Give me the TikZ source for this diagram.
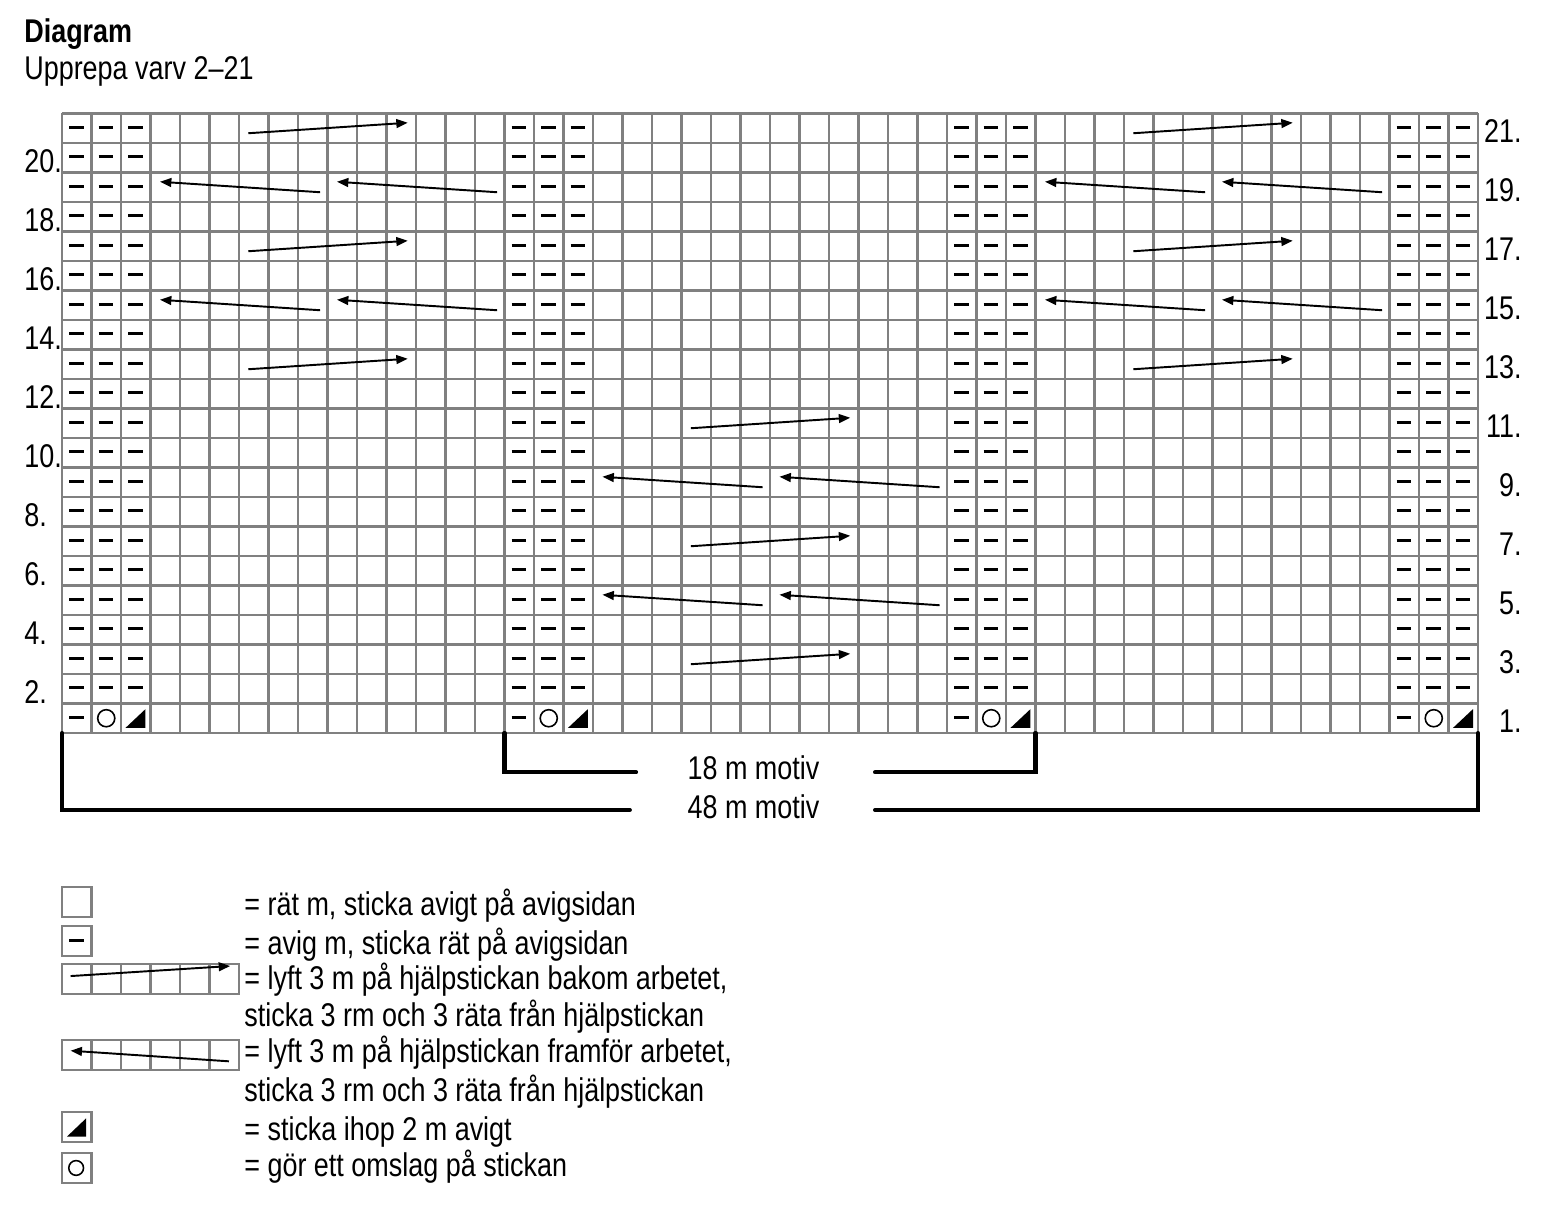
\documentclass[tikz,border=0pt]{standalone}
\usepackage{fontspec}
\setmainfont{Liberation Sans}[FakeStretch=0.82]
\usepackage{tikz}
\usetikzlibrary{arrows.meta}
\definecolor{rutgra}{RGB}{128,128,128}

\begin{document}
\begin{tikzpicture}[x=0.59cm,y=0.59cm,
  rutnat/.style={draw=rutgra,line width=1.3pt},
  avigstreck/.style={line width=1.6pt},
  omslag/.style={line width=0.9pt},
  flatta/.style={-{Triangle[length=6.5pt,width=5pt]},line width=1.1pt},
  ram/.style={line width=2.3pt,line cap=round},
  txt/.style={inner sep=0pt,font=\fontsize{18.7}{22}\selectfont}]
\useasboundingbox (-2.1017,-16.136) rectangle (50.373,24.847);
\node[txt,anchor=base west,font=\fontsize{18.7}{22}\selectfont\bfseries] (rubrik) at (-1.288,23.39) {Diagram};
\node[txt,anchor=base west] (upprepa) at (-1.288,22.14) {Upprepa varv 2–21};
\draw[rutnat,step=0.59cm] (0,0) grid (48,21);
\foreach \c in {0,15,30,45}{
  \foreach \r in {1,...,20}
    \foreach \k in {0,1,2}
      \draw[avigstreck] (\c+\k+0.24,\r+0.53) -- (\c+\k+0.74,\r+0.53);
  \draw[avigstreck] (\c+0.24,0.53) -- (\c+0.74,0.53);
  \draw[omslag] (\c+1.5,0.5) circle [radius=0.29];
  \fill (\c+2.15,0.17) -- (\c+2.83,0.17) -- (\c+2.83,0.81) -- cycle;
}
\foreach \r/\c in {20/6,16/6,12/6,20/36,16/36,12/36,10/21,6/21,2/21}
  \draw[flatta] (\c+0.315,\r+0.33) -- (\c+5.72,\r+0.685);
\foreach \r/\c in {18/3,18/9,14/3,14/9,18/33,18/39,14/33,14/39,8/18,8/24,4/18,4/24}
  \draw[flatta] (\c+5.75,\r+0.33) -- (\c+0.32,\r+0.685);
\foreach \r in {2,4,...,20}
  \node[txt,anchor=base west] (varv\r) at (-1.288,\r-1) {\r.};
\foreach \r in {1,3,...,21}
  \node[txt,anchor=base east] (varv\r) at (49.49,\r-1) {\r.};
\coordinate (hornA) at (0,0);
\coordinate (hornB) at (15,0);
\coordinate (hornC) at (33,0);
\coordinate (hornD) at (48,0);
\node[txt,anchor=base] (motiv18) at (23.44,-1.593) {18 m motiv};
\node[txt,anchor=base] (motiv48) at (23.44,-2.9) {48 m motiv};
\coordinate (m18v) at (19.46,-1.333);
\coordinate (m18h) at (27.56,-1.333);
\coordinate (m48v) at (19.25,-2.61);
\coordinate (m48h) at (27.56,-2.61);
\draw[ram] (hornB) |- (m18v);
\draw[ram] (m18h) -| (hornC);
\draw[ram] (hornA) |- (m48v);
\draw[ram] (m48h) -| (hornD);
\draw[rutnat] (0,-6.24) rectangle (1,-5.22);
\draw[rutnat] (0,-7.56) rectangle (1,-6.54);
\draw[avigstreck] (0.24,-7.03) -- (0.74,-7.03);
\draw[rutnat] (0,-8.84) rectangle (6,-7.83);
\foreach \k in {1,...,5}
  \draw[rutnat] (\k,-8.84) -- (\k,-7.83);
\draw[flatta] (0.29,-8.24) -- (5.7,-7.9);
\draw[rutnat] (0,-11.42) rectangle (6,-10.41);
\foreach \k in {1,...,5}
  \draw[rutnat] (\k,-11.42) -- (\k,-10.41);
\draw[flatta] (5.66,-11.13) -- (0.29,-10.77);
\draw[rutnat] (0,-13.86) rectangle (1,-12.85);
\fill (0.17,-13.68) -- (0.82,-13.68) -- (0.82,-13.06) -- cycle;
\draw[rutnat] (0,-15.25) rectangle (1,-14.24);
\draw[omslag] (0.48,-14.745) circle [radius=0.25];
\node[txt,anchor=base west] (tecken1) at (6.17,-6.203) {= rät m, sticka avigt på avigsidan};
\node[txt,anchor=base west] (tecken2) at (6.17,-7.492) {= avig m, sticka rät på avigsidan};
\node[txt,anchor=base west] (tecken3) at (6.17,-8.712) {= lyft 3 m på hjälpstickan bakom arbetet,};
\node[txt,anchor=base west] (tecken3b) at (6.17,-9.966) {sticka 3 rm och 3 räta från hjälpstickan};
\node[txt,anchor=base west] (tecken4) at (6.17,-11.186) {= lyft 3 m på hjälpstickan framför arbetet,};
\node[txt,anchor=base west] (tecken4b) at (6.17,-12.508) {sticka 3 rm och 3 räta från hjälpstickan};
\node[txt,anchor=base west] (tecken5) at (6.17,-13.797) {= sticka ihop 2 m avigt};
\node[txt,anchor=base west] (tecken6) at (6.17,-15.051) {= gör ett omslag på stickan};
\end{tikzpicture}
\end{document}
